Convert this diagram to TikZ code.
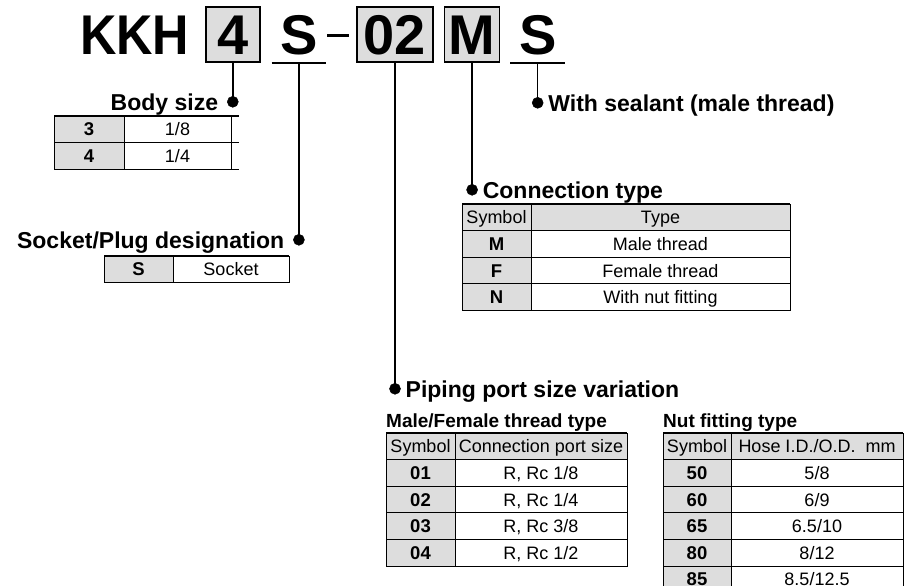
\documentclass[tikz,border=0pt]{standalone}
\usepackage{graphicx}
\usepackage{fontspec}
\setmainfont{Liberation Sans}
\usetikzlibrary{positioning}
\definecolor{cellgrey}{RGB}{221,221,221}
\newcommand\rowht{26.6}
\newcommand\capgap{9pt}

\begin{document}
\begin{tikzpicture}[x=1pt,y=-1pt,
		codebox/.style={rectangle,draw=black,fill=cellgrey,line width=1.6pt,inner sep=0pt,minimum height=55pt,text height=40pt,text depth=0pt,font=\bfseries\fontsize{56}{60}\selectfont},
		codeline/.style={codebox,draw=none,fill=none},
		leaderdot/.style={circle,fill=black,draw=black,line width=.5pt,inner sep=0pt,outer sep=0pt,minimum size=11pt},
		caption/.style={inner sep=0pt,text height=16.5pt,text depth=0pt,font=\bfseries\fontsize{23}{27}\selectfont},
		subcaption/.style={inner sep=0pt,anchor=base west,font=\bfseries\fontsize{19}{23}\selectfont},
		cell/.style={rectangle,draw=black,line width=.8pt,inner sep=0pt,outer sep=0pt,anchor=north west,minimum height={\rowht*1pt},text height=13pt,text depth=0pt,font=\fontsize{18}{21}\selectfont},
		symcell/.style={cell,fill=cellgrey,font=\bfseries\fontsize{18.5}{21}\selectfont},
		headcell/.style={cell,fill=cellgrey},
		topline/.style={line width=1.8pt},
		leader/.style={black,line width=1.5pt}]
		\useasboundingbox (0,0) rectangle (905,586);
		\clip (0,0) rectangle (905,586);
		% model code
		\node(b4)[codebox,minimum width=54pt,anchor=west] at (205,34.5) {4};
		\node(kkh)[codeline,anchor=east] at ([xshift=-15pt]b4.west) {\scalebox{.9}[1]{KKH}};
		\node(s1)[codeline,minimum width=53pt,anchor=west] at ([xshift=11pt]b4.east) {S};
		\node(dash)[fill=black,inner sep=0pt,minimum width=22pt,minimum height=2.4pt] at ([xshift=12pt,yshift=-1pt]s1.east) {};
		\node(b02)[codebox,minimum width=76pt,anchor=west] at ([xshift=30pt]s1.east) {02};
		\node(bM)[codebox,minimum width=55pt,anchor=west] at ([xshift=10pt]b02.east) {M};
		\node(s2)[codeline,minimum width=53pt,anchor=west] at ([xshift=10pt]bM.east) {S};
		\draw[line width=1.6pt] (s1.south west) -- (s1.south east);
		\draw[line width=1.6pt] (s2.south west) -- (s2.south east);
		% leader dots and captions
		\node(d4)[leaderdot] at ([yshift=-39pt]b4.south) {};
		\node(ds1)[leaderdot] at ([yshift=-177pt]s1.south) {};
		\node(d02)[leaderdot] at ([yshift=-326pt]b02.south) {};
		\node(dM)[leaderdot] at ([yshift=-127pt]bM.south) {};
		\node(ds2)[leaderdot] at ([yshift=-40pt]s2.south) {};
		\path [leader] (b4.south) edge (d4.center);
		\path [leader] (s1.south) edge (ds1.center);
		\path [leader] (b02.south) edge (d02.center);
		\path [leader] (bM.south) edge (dM.center);
		\path [leader] (s2.south) edge (ds2.center);
		\node(bodycap)[caption,left=\capgap of d4] {Body size};
		\node(sockcap)[caption,left=\capgap of ds1] {Socket/Plug designation};
		\node(pipecap)[caption,right=5pt of d02] {Piping port size variation};
		\node(conncap)[caption,right=5pt of dM] {Connection type};
		\node(sealcap)[caption,right=5pt of ds2] {With sealant (male thread)};
		% body size
		\foreach \s/\v [count=\i] in {3/{1/8},4/{1/4}}{
			\node(bs\i)[symcell,minimum width=70pt] at (54,{116+(\i-1)*\rowht}) {\s};
			\node(bv\i)[cell,minimum width=107pt] at (bs\i.north east) {\v};
			\draw[line width=.8pt] (bv\i.south east) -- ++(8,0);
		}
		\draw[topline] (bs1.north west) -- ++(185,0);
		% socket/plug
		\node(ss)[symcell,minimum width=69pt] at (104,256) {S};
		\node(sv)[cell,minimum width=116pt] at (ss.north east) {Socket};
		\draw[topline] (ss.north west) -- (sv.north east);
		% connection type
		\node(ch1)[headcell,minimum width=69pt] at (462,204) {Symbol};
		\node(ch2)[headcell,minimum width=259pt] at (ch1.north east) {Type};
		\foreach \s/\v [count=\i] in {M/Male thread,F/Female thread,N/With nut fitting}{
			\node(cs\i)[symcell,minimum width=69pt] at (462,{204+\i*\rowht}) {\s};
			\node(cv\i)[cell,minimum width=259pt] at (cs\i.north east) {\v};
		}
		\draw[topline] (ch1.north west) -- (ch2.north east);
		% male/female thread
		\node(mh1)[headcell,minimum width=69pt] at (386,433) {Symbol};
		\node(mh2)[headcell,minimum width=172pt] at (mh1.north east) {Connection port size};
		\foreach \s/\v [count=\i] in {01/{R, Rc 1/8},02/{R, Rc 1/4},03/{R, Rc 3/8},04/{R, Rc 1/2}}{
			\node(ms\i)[symcell,minimum width=69pt] at (386,{433+\i*\rowht}) {\s};
			\node(mv\i)[cell,minimum width=172pt] at (ms\i.north east) {\v};
		}
		\draw[topline] (mh1.north west) -- (mh2.north east);
		\node(mfcap)[subcaption] at ([yshift=6pt]mh1.north west) {Male/Female thread type};
		% nut fitting
		\node(nh1)[headcell,minimum width=68pt] at (663,433) {Symbol};
		\node(nh2)[headcell,minimum width=172pt] at (nh1.north east) {Hose I.D./O.D.\ \ mm};
		\foreach \s/\v [count=\i] in {50/{5/8},60/{6/9},65/{6.5/10},80/{8/12},85/{8.5/12.5}}{
			\node(ns\i)[symcell,minimum width=68pt] at (663,{433+\i*\rowht}) {\s};
			\node(nv\i)[cell,minimum width=172pt] at (ns\i.north east) {\v};
		}
		\draw[topline] (nh1.north west) -- (nh2.north east);
		\node(nutcap)[subcaption] at ([yshift=6pt]nh1.north west) {Nut fitting type};
	\end{tikzpicture}
\end{document}
